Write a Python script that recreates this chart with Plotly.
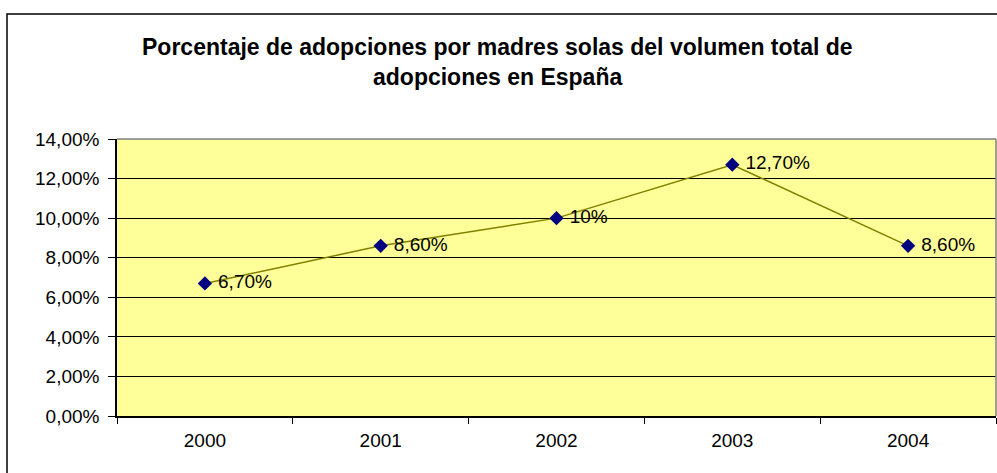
import plotly.graph_objects as go

YEARS = ["2000", "2001", "2002", "2003", "2004"]
PCT = [0.067, 0.086, 0.10, 0.127, 0.086]
LABELS = ["6,70%", "8,60%", "10%", "12,70%", "8,60%"]
TITLE_LINES = [
    "Porcentaje de adopciones por madres solas del volumen total de",
    "adopciones en España",
]

FONT = dict(family="Liberation Sans, Arial, sans-serif", size=19, color="#000000")
PLOT_BG = "#FFFF99"

# plot area in page pixels
L, T, PW, PH = 117, 139, 879, 277

fig = go.Figure(
    go.Scatter(
        x=YEARS, y=PCT, mode="lines+markers+text",
        line=dict(color="#808000", width=1.5),
        marker=dict(symbol="diamond", size=11, color="#000080"),
        text=[" " + t for t in LABELS], textposition="middle right",
        textfont=FONT, cliponaxis=False, showlegend=False,
    )
)

# plot-area border (gray top/right) and outer chart frame
fig.add_shape(type="line", xref="paper", yref="paper", x0=0, x1=1, y0=1, y1=1,
              line=dict(color="#808080", width=1.5), layer="above")
fig.add_shape(type="line", xref="paper", yref="paper", x0=1, x1=1, y0=0, y1=1,
              line=dict(color="#808080", width=1.5), layer="above")
fig.add_shape(type="rect", xref="paper", yref="paper",
              x0=(7 - L) / PW, x1=1.05, y0=-0.5, y1=(T + PH - 14) / PH,
              line=dict(color="#000000", width=1.5))

for txt, ypx in zip(TITLE_LINES, [47, 77]):
    fig.add_annotation(
        text=f"<b>{txt}</b>", xref="paper", yref="paper",
        x=(497 - L) / PW, y=(T + PH - ypx) / PH,
        xanchor="center", yanchor="middle", showarrow=False,
        font=dict(family=FONT["family"], size=23, color="#000000"),
    )

fig.update_layout(
    width=997, height=473,
    margin=dict(l=L, r=997 - L - PW, t=T, b=473 - T - PH),
    paper_bgcolor="#ffffff", plot_bgcolor=PLOT_BG,
    font=FONT, separators=",.",
    xaxis=dict(type="category", range=[-0.5, 4.5], tickson="boundaries",
               ticks="outside", ticklen=6, tickcolor="#000000",
               showline=True, linecolor="#000000", linewidth=1.5,
               showgrid=False, zeroline=False, tickfont=FONT,
               ticklabelstandoff=6),
    yaxis=dict(range=[0, 0.14], dtick=0.02, tickformat=".2%",
               ticks="outside", ticklen=7, tickcolor="#000000",
               showline=True, linecolor="#000000", linewidth=1.5,
               gridcolor="#000000", gridwidth=1, zeroline=False,
               ticklabelstandoff=5, tickfont=FONT),
)

fig.write_html("out.html", config={"displayModeBar": False},
               post_script="document.body.style.margin = '0px';")
